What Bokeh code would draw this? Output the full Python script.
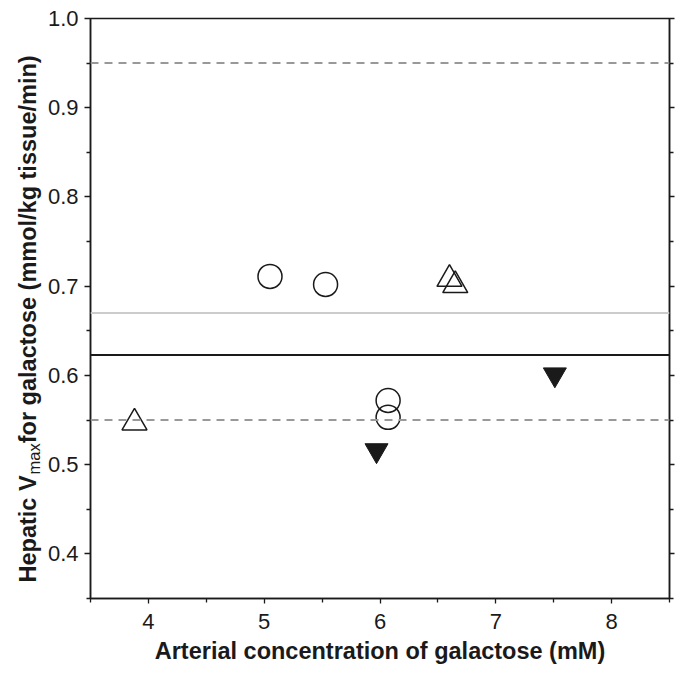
import math
from bokeh.plotting import figure
from bokeh.layouts import row
from bokeh.models import (FixedTicker, LinearAxis, Label, Span,
                          PrintfTickFormatter, Range1d)
from bokeh.embed import file_html
from bokeh.resources import INLINE

# ---- data ----
circle_x = [5.05, 5.53, 6.07, 6.07]
circle_y = [0.711, 0.702, 0.572, 0.553]
tri_up_x = [3.88, 6.60, 6.65]
tri_up_y = [0.547, 0.708, 0.701]
tri_down_x = [5.97, 7.51]
tri_down_y = [0.516, 0.601]

dashed_levels = [0.95, 0.55]
light_level = 0.67
mean_level = 0.623

x_ticks = [4, 5, 6, 7, 8]
x_minor = [3.5, 4.5, 5.5, 6.5, 7.5, 8.5]
y_ticks = [0.4, 0.5, 0.6, 0.7, 0.8, 0.9, 1.0]
y_minor = [0.35, 0.45, 0.55, 0.65, 0.75, 0.85, 0.95]

x_label = "Arterial concentration of galactose (mM)"
y_label_parts = ["Hepatic V", "max", " for galactose (mmol/kg tissue/min)"]

FONT = "Liberation Sans"
LW = 44          # width of the strip holding the y label
W, H = 676, 668

p = figure(width=W - LW, height=H, output_backend="svg", toolbar_location=None,
           x_range=Range1d(3.5, 8.5), y_range=Range1d(0.35, 1.0),
           min_border_left=89 - LW, min_border_right=7, min_border_top=18, min_border_bottom=70)
p.grid.visible = False
p.outline_line_color = "#1a1a1a"
p.outline_line_width = 1.5
p.background_fill_color = "white"
p.border_fill_color = "white"

xt = FixedTicker(ticks=x_ticks, minor_ticks=x_minor)
yt = FixedTicker(ticks=y_ticks, minor_ticks=y_minor)

for ax in p.xaxis:
    ax.ticker = xt
for ax in p.yaxis:
    ax.ticker = yt
    ax.formatter = PrintfTickFormatter(format="%.1f")

def style_axis(ax):
    ax.axis_line_color = "#1a1a1a"
    ax.axis_line_width = 1.5
    ax.major_tick_line_color = "#1a1a1a"
    ax.minor_tick_line_color = "#1a1a1a"
    ax.major_tick_line_width = 1.3
    ax.minor_tick_line_width = 1.3
    ax.major_tick_in = 0
    ax.minor_tick_in = 0
    ax.major_tick_out = 5
    ax.minor_tick_out = 4
    ax.major_label_text_font = FONT
    ax.major_label_text_font_size = "22px"
    ax.major_label_text_color = "#1a1a1a"

for ax in p.xaxis:
    style_axis(ax)
    ax.major_label_standoff = 10
    ax.axis_label = x_label
    ax.axis_label_text_font = FONT
    ax.axis_label_text_font_style = "bold"
    ax.axis_label_text_font_size = "23.5px"
    ax.axis_label_text_color = "#1a1a1a"
    ax.axis_label_standoff = 6
for ax in p.yaxis:
    style_axis(ax)
    ax.major_tick_out = 6
    ax.major_label_standoff = 6

right = LinearAxis(ticker=yt)
style_axis(right)
right.major_label_overrides = {v: "" for v in y_ticks}
right.major_label_standoff = 0
p.add_layout(right, "right")

# reference lines
for lv in dashed_levels:
    p.add_layout(Span(location=lv, dimension="width", line_color="#999999",
                      line_width=2, line_dash="8 6"))
p.add_layout(Span(location=light_level, dimension="width", line_color="#cccccc", line_width=2))
p.add_layout(Span(location=mean_level, dimension="width", line_color="#1a1a1a", line_width=2))

# markers
p.scatter(circle_x, circle_y, marker="circle", size=24, fill_color=None,
          line_color="#1a1a1a", line_width=1.5)
p.scatter(tri_up_x, tri_up_y, marker="triangle", size=25, fill_color=None,
          line_color="#1a1a1a", line_width=1.5)
p.scatter(tri_down_x, tri_down_y, marker="inverted_triangle", size=23, fill_color="#1a1a1a",
          line_color="#1a1a1a", line_width=1)

# ---- y label strip (subscript "max"); its frame is aligned with the main frame ----
lab = figure(width=LW, height=H, output_backend="svg", toolbar_location=None,
             x_range=Range1d(0, LW), y_range=Range1d(0, 1),
             min_border=0, min_border_left=0, min_border_right=0,
             min_border_top=0, min_border_bottom=0)
lab.axis.visible = False
lab.grid.visible = False
lab.outline_line_color = None
lab.background_fill_color = "white"
lab.border_fill_color = "white"

BOLD_W = {'H': 722, 'e': 556, 'p': 611, 'a': 556, 't': 333, 'i': 278, 'c': 556, ' ': 278,
          'V': 667, 'f': 333, 'o': 611, 'r': 389, 'g': 611, 'l': 278, 's': 556, '(': 333,
          'm': 889, '/': 278, 'k': 556, 'u': 611, 'n': 611, ')': 333}
REG_W = {'m': 833, 'a': 556, 'x': 500}

def width(s, table, size):
    return sum(table.get(ch, 556) for ch in s) * size / 1000.0

main_size, sub_size = 23.5, 16.5
base_x = 27
y0 = 16
seg1, seg2, seg3 = y_label_parts
lab.add_layout(Label(x=base_x, y=y0, x_units="screen", y_units="screen", text=seg1,
                     angle=math.pi / 2, text_font=FONT, text_font_style="bold",
                     text_font_size=f"{main_size}px", text_color="#1a1a1a",
                     text_baseline="alphabetic", text_align="left"))
y1 = y0 + width(seg1, BOLD_W, main_size) + 1
lab.add_layout(Label(x=base_x + 6, y=y1, x_units="screen", y_units="screen", text=seg2,
                     angle=math.pi / 2, text_font=FONT, text_font_style="normal",
                     text_font_size=f"{sub_size}px", text_color="#1a1a1a",
                     text_baseline="alphabetic", text_align="left"))
y2 = y1 + width(seg2, REG_W, sub_size)
lab.add_layout(Label(x=base_x, y=y2, x_units="screen", y_units="screen", text=seg3,
                     angle=math.pi / 2, text_font=FONT, text_font_style="bold",
                     text_font_size=f"{main_size}px", text_color="#1a1a1a",
                     text_baseline="alphabetic", text_align="left"))

layout = row(lab, p, spacing=0)
open("out.html", "w").write(file_html(layout, INLINE))
